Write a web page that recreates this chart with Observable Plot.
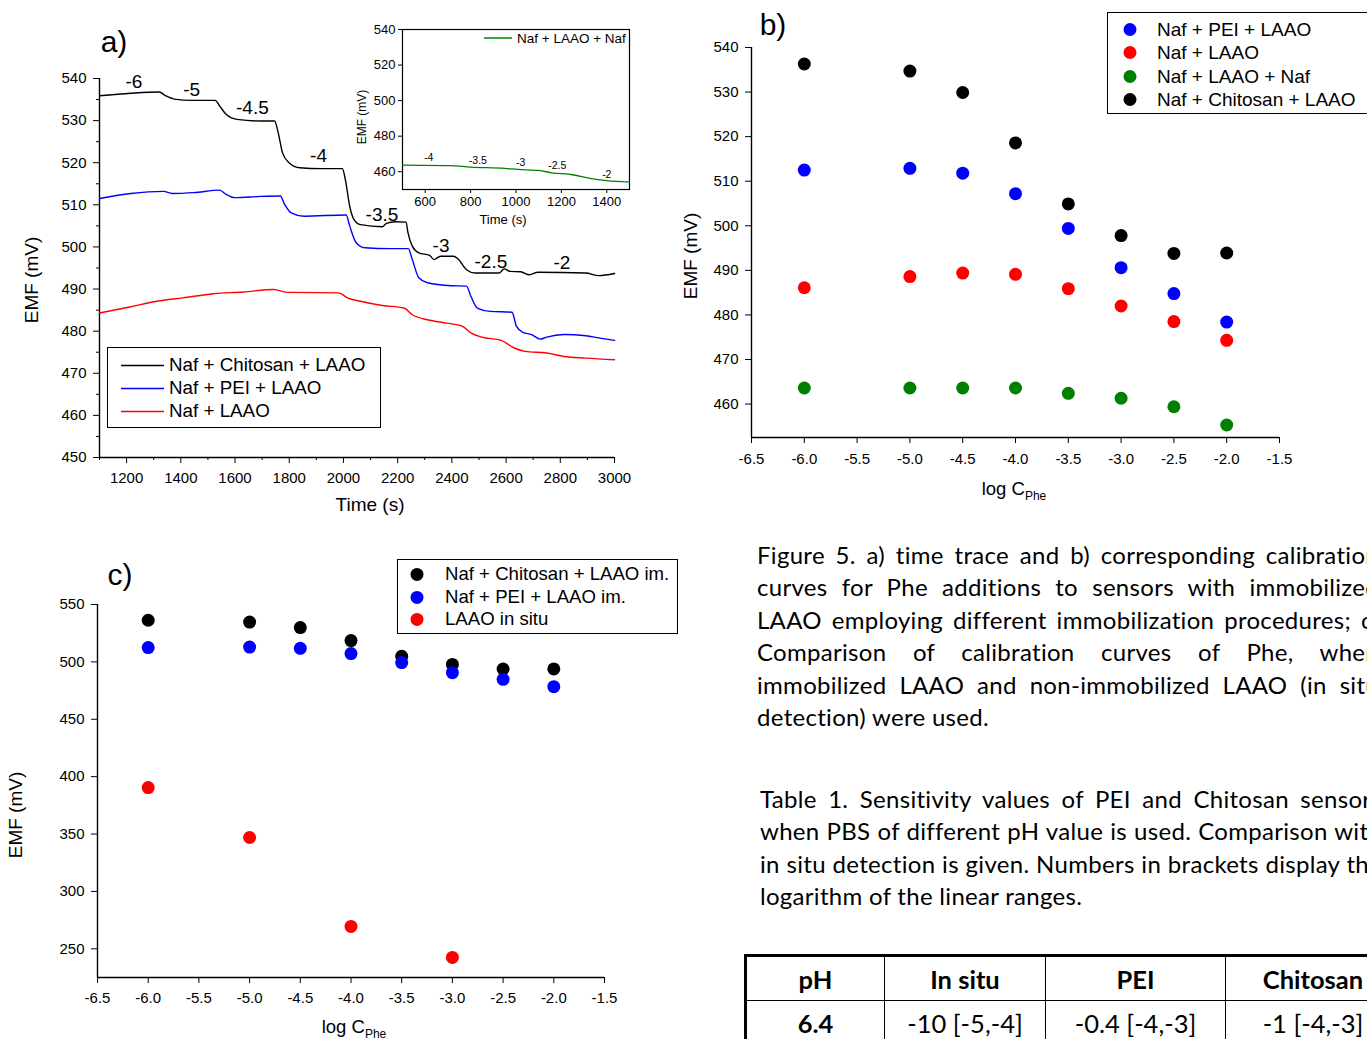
<!DOCTYPE html>
<html><head><meta charset="utf-8">
<script src="https://cdn.jsdelivr.net/npm/d3@7"></script>
<script src="https://cdn.jsdelivr.net/npm/@observablehq/plot@0.6"></script>
<style>
html,body{margin:0;padding:0;background:#fff;}
#page{position:relative;width:1367px;height:1039px;overflow:hidden;background:#fff;font-family:"Liberation Sans",Arial,sans-serif;color:#000;}
.abs{position:absolute;}
.ctr{position:absolute;transform:translate(-50%,-50%);white-space:nowrap;}
.rot{position:absolute;transform:translate(-50%,-50%) rotate(-90deg);white-space:nowrap;}
.legend{position:absolute;border:1.3px solid #000;background:#fff;box-sizing:border-box;}
.lrow{position:absolute;white-space:nowrap;transform:translateY(-50%);}
.cap{position:absolute;font-family:Lato,"Open Sans",sans-serif;font-size:24px;letter-spacing:0.3px;line-height:32.4px;white-space:nowrap;}
.cap .j{width:622px;text-align:justify;text-align-last:justify;}
table.t{position:absolute;border-collapse:collapse;table-layout:fixed;font-family:Lato,"Open Sans",sans-serif;font-size:25.5px;}
table.t td{border:1.5px solid #000;text-align:center;padding:0;height:43px;white-space:nowrap;overflow:hidden;}
</style>
</head><body><div id="page"></div>
<script>
// ---------------- data ----------------
// panel a: time traces (time in s, EMF in mV)
const chitosanTraceT = [1100,1216,1320,1344,1376,1440,1527,1543,1567,1607,1695,1746,1759,1775,1799,1839,1919,1996,2007,2023,2039,2063,2143,2159,2191,2231,2238,2254,2278,2318,2334,2358,2406,2422,2454,2486,2574,2593,2614,2654,2686,2718,2894,2942,3000];
const chitosanTraceV = [535.9,536.5,536.8,535.9,535.1,534.8,534.8,533.5,531.5,530.3,529.9,529.9,527.2,522.4,520,518.8,518.6,518.6,516,509.7,506.5,505.3,504.8,505.6,506,505.9,503.4,500.2,498.6,498,497,497.8,497.8,497.2,494.6,493.8,493.8,494.8,494.2,494.1,493.4,494,493.8,493.2,493.7];
const peiTraceT = [1100,1216,1336,1368,1448,1543,1567,1599,1695,1767,1783,1807,1855,2010,2023,2047,2079,2175,2239,2254,2278,2310,2398,2454,2470,2494,2542,2622,2638,2662,2694,2726,2750,2814,2894,2942,3000];
const peiTraceV = [511.5,512.7,513.2,512.7,512.9,513.5,512.5,511.7,512,512.1,510.1,508.1,507.3,507.6,505,501,499.8,499.6,499.6,497,492.7,491.5,490.8,490.7,488.3,485.5,484.7,484.5,481.2,479.7,479.2,478.1,478.6,479.2,478.9,478.4,477.8];
const laaoTraceT = [1100,1216,1312,1408,1520,1631,1743,1791,1983,2015,2063,2143,2223,2254,2310,2382,2438,2470,2510,2582,2630,2670,2750,2814,2894,3000];
const laaoTraceV = [484.3,485.8,487.1,487.9,488.9,489.3,489.9,489.2,489.1,487.9,487.1,486.1,485.5,483.9,482.7,481.9,481.2,479.6,478.6,477.8,476,475.2,474.8,474,473.6,473.2];
const concLabelText = ["-6","-5","-4.5","-4","-3.5","-3","-2.5","-2"];
const concLabelT = [1227,1440,1664,1908,2142,2360,2544,2806];
const concLabelV = [539.3,537.4,533.1,521.5,507.5,500.3,496.5,496.1];
const xMajorA = [1200,1400,1600,1800,2000,2200,2400,2600,2800,3000];
const xMinorA = [1100,1300,1500,1700,1900,2100,2300,2500,2700,2900];
const yMajorA = [450,460,470,480,490,500,510,520,530,540];
const yMinorA = [455,465,475,485,495,505,515,525,535];
const seriesA = ["Naf + Chitosan + LAAO","Naf + PEI + LAAO","Naf + LAAO"];

// inset: Naf + LAAO + Naf
const nafTraceT = [500,711,800,950,1009,1099,1159,1250,1325,1400,1500];
const nafTraceV = [463.7,463.4,462.6,461.9,461.3,460.7,459.4,458.3,456.3,455,454.2];
const insetLabelText = ["-4","-3.5","-3","-2.5","-2"];
const insetLabelT = [615,832,1021,1182,1400];
const insetLabelV = [467.8,466.5,465.2,463.4,458.1];
const xTicksInset = [600,800,1000,1200,1400];
const yTicksInset = [460,480,500,520,540];

// panel b / c: calibration
const logC = [-6,-5,-4.5,-4,-3.5,-3,-2.5,-2];
const peiEMF = [512.5,512.9,511.8,507.2,499.4,490.6,484.8,478.4];
const laaoEMF = [486.1,488.6,489.4,489.1,485.9,482.0,478.5,474.3];
const nafEMF = [463.6,463.6,463.6,463.6,462.4,461.3,459.4,455.3];
const chitosanEMF = [536.3,534.7,529.9,518.6,504.9,497.8,493.8,493.9];
const seriesB = ["Naf + PEI + LAAO","Naf + LAAO","Naf + LAAO + Naf","Naf + Chitosan + LAAO"];
const insituLogC = [-6,-5,-4,-3];
const insituEMF = [390.5,347.0,269.5,242.5];
const seriesC = ["Naf + Chitosan + LAAO im.","Naf + PEI + LAAO im.","LAAO in situ"];
const xTicksBC = [-6.5,-6,-5.5,-5,-4.5,-4,-3.5,-3,-2.5,-2,-1.5];
const yTicksB = [460,470,480,490,500,510,520,530,540];
const yTicksC = [250,300,350,400,450,500,550];

// text
const figCaption = [
  "Figure 5. a) time trace and b) corresponding calibration",
  "curves for Phe additions to sensors with immobilized",
  "LAAO employing different immobilization procedures; c)",
  "Comparison of calibration curves of Phe, when",
  "immobilized LAAO and non-immobilized LAAO (in situ",
  "detection) were used."];
const tableCaption = [
  "Table 1. Sensitivity values of PEI and Chitosan sensors",
  "when PBS of different pH value is used. Comparison with",
  "in situ detection is given. Numbers in brackets display the",
  "logarithm of the linear ranges."];
const tableHeader = ["pH","In situ","PEI","Chitosan"];
const tableRow = ["6.4","-10 [-5,-4]","-0.4 [-4,-3]","-1 [-4,-3]"];

// ---------------- build ----------------
const FONT = '"Liberation Sans", Arial, sans-serif';
const page = document.getElementById("page");
const rows = (ts, vs, s) => ts.map((t, i) => ({t, v: vs[i], s}));
function place(el, left, top) {
  const d = document.createElement("div");
  d.className = "abs"; d.style.left = left + "px"; d.style.top = top + "px";
  d.appendChild(el); page.appendChild(d); return d;
}
function html(cls, left, top, inner, extra) {
  const d = document.createElement("div");
  d.className = cls; d.style.left = left + "px"; d.style.top = top + "px";
  d.innerHTML = inner; if (extra) Object.assign(d.style, extra);
  page.appendChild(d); return d;
}
const baseStyle = {fontFamily: FONT, fontSize: "15px", background: "transparent", overflow: "visible", color: "#000"};

// ---- panel a ----
const colorsA = ["#000000","#0000ff","#ff0000"];
const traces = [
  ...rows(laaoTraceT, laaoTraceV, seriesA[2]),
  ...rows(peiTraceT, peiTraceV, seriesA[1]),
  ...rows(chitosanTraceT, chitosanTraceV, seriesA[0])
];
const concLabels = concLabelText.map((txt, i) => ({txt, t: concLabelT[i], v: concLabelV[i]}));
const plotA = Plot.plot({
  width: 650, height: 520, marginLeft: 99, marginRight: 36, marginTop: 78, marginBottom: 63,
  x: {domain: [1100, 3000]}, y: {domain: [450, 540]},
  color: {domain: seriesA, range: colorsA},
  style: baseStyle,
  marks: [
    Plot.axisY({ticks: yMinorA, tickSize: 3, tickFormat: () => "", label: null}),
    Plot.axisY({ticks: yMajorA, tickSize: 6, tickPadding: 7, tickFormat: d => String(d), label: null, fontSize: 15}),
    Plot.axisX({ticks: xMinorA, tickSize: 3, tickFormat: () => "", label: null}),
    Plot.axisX({ticks: xMajorA, tickSize: 6, tickPadding: 9, tickFormat: d => String(d), label: null, fontSize: 15}),
    Plot.ruleX([1100], {strokeWidth: 1.4}),
    Plot.ruleY([450], {strokeWidth: 1.4}),
    Plot.line(traces, {x: "t", y: "v", z: "s", stroke: "s", strokeWidth: 1.4, curve: "monotone-x"}),
    Plot.text(concLabels, {x: "t", y: "v", text: "txt", fontSize: 19, fill: "#000"})
  ]
});
place(plotA, 0, 0);

// ---- inset ----
const insetRows = rows(nafTraceT, nafTraceV, "Naf + LAAO + Naf");
const insetLabels = insetLabelText.map((txt, i) => ({txt, t: insetLabelT[i], v: insetLabelV[i]}));
const plotInset = Plot.plot({
  width: 300, height: 220, marginLeft: 62, marginRight: 11, marginTop: 19, marginBottom: 41,
  x: {domain: [500, 1500]}, y: {domain: [450, 540]},
  style: Object.assign({}, baseStyle, {fontSize: "13px"}),
  marks: [
    Plot.axisY({ticks: yTicksInset, tickSize: 4, tickPadding: 3, tickFormat: d => String(d), label: null, fontSize: 13}),
    Plot.axisX({ticks: xTicksInset, tickSize: 4, tickPadding: 3, tickFormat: d => String(d), label: null, fontSize: 13}),
    Plot.frame({stroke: "#000", strokeWidth: 1.2}),
    Plot.line(insetRows, {x: "t", y: "v", stroke: "#008000", strokeWidth: 1.3, curve: "monotone-x"}),
    Plot.text(insetLabels, {x: "t", y: "v", text: "txt", fontSize: 10.5, fill: "#000"})
  ]
});
place(plotInset, 340, 10);

// ---- panel b ----
const colorsB = ["#0000ff","#ff0000","#008000","#000000"];
const calB = [
  ...logC.map((x, i) => ({x, y: nafEMF[i], s: seriesB[2]})),
  ...logC.map((x, i) => ({x, y: laaoEMF[i], s: seriesB[1]})),
  ...logC.map((x, i) => ({x, y: peiEMF[i], s: seriesB[0]})),
  ...logC.map((x, i) => ({x, y: chitosanEMF[i], s: seriesB[3]}))
];
const plotB = Plot.plot({
  width: 687, height: 510, marginLeft: 71, marginRight: 88, marginTop: 47, marginBottom: 73,
  x: {domain: [-6.5, -1.5]}, y: {domain: [452.5, 540]},
  color: {domain: seriesB, range: colorsB},
  style: baseStyle,
  marks: [
    Plot.axisY({ticks: yTicksB, tickSize: 6, tickPadding: 7, tickFormat: d => String(d), label: null, fontSize: 15}),
    Plot.axisX({ticks: xTicksBC, tickSize: 6, tickPadding: 10, tickFormat: d => d.toFixed(1), label: null, fontSize: 15}),
    Plot.ruleX([-6.5], {strokeWidth: 1.4}),
    Plot.ruleY([452.5], {strokeWidth: 1.4}),
    Plot.dot(calB, {x: "x", y: "y", fill: "s", r: 6.5, stroke: null})
  ]
});
place(plotB, 680, 0);

// ---- panel c ----
const colorsC = ["#000000","#0000ff","#ff0000"];
const calC = [
  ...insituLogC.map((x, i) => ({x, y: insituEMF[i], s: seriesC[2]})),
  ...logC.map((x, i) => ({x, y: chitosanEMF[i], s: seriesC[0]})),
  ...logC.map((x, i) => ({x, y: peiEMF[i], s: seriesC[1]}))
];
const plotC = Plot.plot({
  width: 660, height: 499, marginLeft: 97, marginRight: 56, marginTop: 64, marginBottom: 62,
  x: {domain: [-6.5, -1.5]}, y: {domain: [225, 550]},
  color: {domain: seriesC, range: colorsC},
  style: baseStyle,
  marks: [
    Plot.axisY({ticks: yTicksC, tickSize: 6, tickPadding: 7, tickFormat: d => String(d), label: null, fontSize: 15}),
    Plot.axisX({ticks: xTicksBC, tickSize: 6, tickPadding: 9, tickFormat: d => d.toFixed(1), label: null, fontSize: 15}),
    Plot.ruleX([-6.5], {strokeWidth: 1.4}),
    Plot.ruleY([225], {strokeWidth: 1.4}),
    Plot.dot(calC, {x: "x", y: "y", fill: "s", r: 6.5, stroke: null})
  ]
});
place(plotC, 0, 540);

// ---- panel letters, axis titles ----
html("ctr", 114, 42, "a)", {fontSize: "30px"});
html("ctr", 773, 25, "b)", {fontSize: "30px"});
html("ctr", 120, 575, "c)", {fontSize: "30px"});
html("rot", 32, 280, "EMF (mV)", {fontSize: "19px"});
html("ctr", 370, 505, "Time (s)", {fontSize: "19px"});
html("rot", 362, 117, "EMF (mV)", {fontSize: "12px"});
html("ctr", 503, 219, "Time (s)", {fontSize: "13px"});
html("rot", 691, 256, "EMF (mV)", {fontSize: "19px"});
html("ctr", 1014, 490, 'log C<sub style="font-size:12px;vertical-align:-5px">Phe</sub>', {fontSize: "18.5px"});
html("rot", 16, 815, "EMF (mV)", {fontSize: "19px"});
html("ctr", 354, 1028, 'log C<sub style="font-size:12px;vertical-align:-5px">Phe</sub>', {fontSize: "18.5px"});

// ---- legends ----
function lineSwatch(color, w) {
  return `<svg width="${w}" height="4" style="vertical-align:middle"><line x1="0" x2="${w}" y1="2" y2="2" stroke="${color}" stroke-width="1.5"/></svg>`;
}
function dotSwatch(color) {
  return `<svg width="14" height="14" style="vertical-align:middle"><circle cx="7" cy="7" r="6.5" fill="${color}"/></svg>`;
}
// a legend
const legA = html("legend", 107, 347, "", {width: "274px", height: "81px"});
seriesA.forEach((s, i) => {
  const r = document.createElement("div"); r.className = "lrow";
  r.style.left = "13px"; r.style.top = (17 + i * 23) + "px"; r.style.fontSize = "18.8px";
  r.innerHTML = lineSwatch(colorsA[i], 43) + `<span style="margin-left:5px;vertical-align:middle">${s}</span>`;
  legA.appendChild(r);
});
// inset legend
html("lrow", 484, 38, lineSwatch("#008000", 28) + '<span style="margin-left:5px;vertical-align:middle">Naf + LAAO + Naf</span>', {fontSize: "13.5px"});
// b legend
const legB = html("legend", 1107, 12, "", {width: "262px", height: "102px"});
seriesB.forEach((s, i) => {
  const r = document.createElement("div"); r.className = "lrow";
  r.style.left = "15px"; r.style.top = (16 + i * 23.5) + "px"; r.style.fontSize = "19px";
  r.innerHTML = dotSwatch(colorsB[i]) + `<span style="margin-left:20px;vertical-align:middle">${s}</span>`;
  legB.appendChild(r);
});
// c legend
const legC = html("legend", 397, 559, "", {width: "281px", height: "75px"});
seriesC.forEach((s, i) => {
  const r = document.createElement("div"); r.className = "lrow";
  r.style.left = "12px"; r.style.top = (14 + i * 22.5) + "px"; r.style.fontSize = "18.6px";
  r.innerHTML = dotSwatch(colorsC[i]) + `<span style="margin-left:21px;vertical-align:middle">${s}</span>`;
  legC.appendChild(r);
});

// ---- captions ----
function caption(lines, left, top) {
  const d = html("cap", left, top, "");
  lines.forEach((ln, i) => {
    const l = document.createElement("div");
    if (i < lines.length - 1) l.className = "j";
    l.textContent = ln; d.appendChild(l);
  });
}
caption(figCaption, 757, 539);
caption(tableCaption, 760, 783);

// ---- table ----
const tbl = document.createElement("table"); tbl.className = "t";
const widths = [139, 161, 180, 176];
tbl.style.left = "744px"; tbl.style.top = "954px";
tbl.style.width = d3.sum(widths) + "px";
tbl.style.border = "3px solid #000";
const cg = document.createElement("colgroup");
widths.forEach(w => { const c = document.createElement("col"); c.style.width = w + "px"; cg.appendChild(c); });
tbl.appendChild(cg);
[tableHeader, tableRow].forEach((row, ri) => {
  const tr = document.createElement("tr");
  row.forEach((c, ci) => {
    const td = document.createElement("td");
    td.textContent = c;
    if (ri === 0 || ci === 0) td.style.fontWeight = "bold";
    tr.appendChild(td);
  });
  tbl.appendChild(tr);
});
page.appendChild(tbl);
</script></body></html>
